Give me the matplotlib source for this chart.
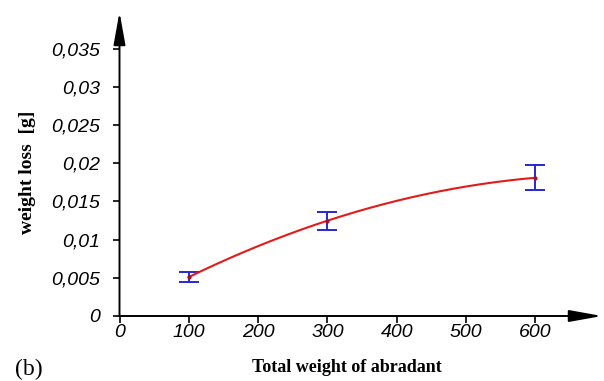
import numpy as np
import matplotlib.pyplot as plt

# data
abradant = [100, 300, 600]
loss = [0.0051, 0.01248, 0.0181]
err_low = [0.0006, 0.00122, 0.0016]
err_high = [0.0006, 0.00117, 0.00166]
xticks = [0, 100, 200, 300, 400, 500, 600]
yticks = [0, 0.005, 0.01, 0.015, 0.02, 0.025, 0.03, 0.035]

fig = plt.figure(figsize=(6.04, 3.81), dpi=100)
ax = fig.add_axes([119.5 / 604, 65 / 381, (602 - 119.5) / 604, 304 / 381])
ax.set_xlim(0, 696)
ax.set_ylim(0, 0.0398)

# smooth trend curve through the measured points
coef = np.polyfit(abradant, loss, 2)
xs = np.linspace(abradant[0], abradant[-1], 200)
ax.plot(xs, np.polyval(coef, xs), color='#e31a1a', lw=1.5, zorder=3)
ax.plot(abradant, loss, 'o', color='#a01030', ms=2, zorder=4)
ax.errorbar(abradant, loss, yerr=[err_low, err_high], fmt='none',
            ecolor='#2626d9', elinewidth=1.4, capsize=7.5, capthick=1.4, zorder=2)

for s in ax.spines.values():
    s.set_visible(False)

# axes with arrow heads
arrow = dict(arrowstyle='-|>,head_length=2.0,head_width=0.36', color='black',
             lw=1.4, mutation_scale=10, shrinkA=0, shrinkB=0)
ax.annotate('', xy=(1, 0), xytext=(0, 0), xycoords='axes fraction',
            arrowprops=arrow, annotation_clip=False)
ax.annotate('', xy=(0, 1), xytext=(0, 0), xycoords='axes fraction',
            arrowprops=arrow, annotation_clip=False)

tickfont = dict(family='Liberation Sans', style='italic', size=14)
ax.set_xticks(xticks)
ax.set_xticklabels([str(t) for t in xticks], fontdict=tickfont)
ax.set_yticks(yticks)
ax.set_yticklabels([('%g' % t).replace('.', ',') for t in yticks], fontdict=tickfont)
ax.tick_params(axis='y', direction='out', length=5, width=1.2, pad=9)
ax.tick_params(axis='x', direction='out', length=5, width=1.2, pad=1)

fig.text(27 / 604, 1 - 172 / 381, 'weight loss  [g]', family='Liberation Serif',
         weight='bold', size=14, rotation=90, ha='center', va='center')
fig.text(347 / 604, 13 / 381, 'Total weight of abradant', family='Liberation Serif',
         weight='bold', size=13, ha='center', va='center')
fig.text(15 / 604, 0.015, '(b)', family='Liberation Serif', size=17)

fig.savefig('out.png', dpi=100)
